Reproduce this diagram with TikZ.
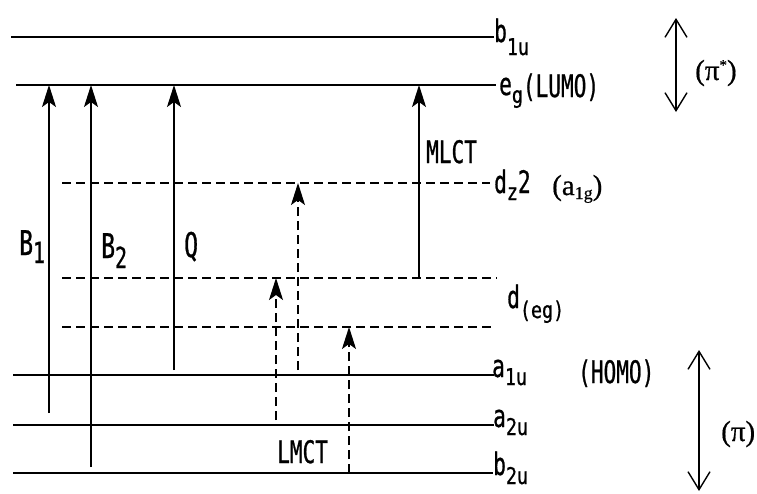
\documentclass[tikz,border=0pt]{standalone}
\usepackage{fontspec}
\usetikzlibrary{arrows.meta}
\newfontfamily\labfont[FakeStretch=0.68,FakeBold=0.8]{DejaVu Sans Mono}
\newfontfamily\subfont[FakeStretch=0.8,FakeBold=0.8]{DejaVu Sans Mono}
\newfontfamily\serfont[FakeBold=0.6]{Liberation Serif}
\newcommand\lsb[2][10pt]{\raisebox{-#1}{\subfont\fontsize{23}{23}\selectfont #2}}
\newcommand\bsb[2][9pt]{\raisebox{-#1}{\labfont\fontsize{29}{29}\selectfont #2}}
\tikzset{
 level/.style={line width=1.8pt},
 dlevel/.style={line width=1.5pt, dash pattern=on 9pt off 5pt},
 trans/.style={line width=1.5pt, -{Stealth[length=22pt,width=14pt,inset=5pt]}},
 dtrans/.style={trans, dash pattern=on 9pt off 5pt},
 spanarrow/.style={line width=1.4pt, {Straight Barb[length=18pt,width=22pt]}-{Straight Barb[length=18pt,width=22pt]}},
 lab/.style={font=\labfont\fontsize{31}{33}\selectfont, inner sep=0pt, anchor=base west},
 biglab/.style={font=\labfont\fontsize{34}{36}\selectfont, inner sep=0pt, anchor=base west},
 ser/.style={font=\serfont\fontsize{29}{31}\selectfont, inner sep=0pt, anchor=base west},
}
\begin{document}
\begin{tikzpicture}[x=1pt,y=-1pt]
\useasboundingbox (0,0) rectangle (757,493);
% level end points
\coordinate (b1uL) at (11,37);  \coordinate (b1uR) at (494,37);
\coordinate (egL)  at (16,85);  \coordinate (egR)  at (496,85);
\coordinate (dzL)  at (62,183); \coordinate (dzR)  at (490,183);
\coordinate (daL)  at (62,278); \coordinate (daR)  at (497,278);
\coordinate (dbL)  at (62,327); \coordinate (dbR)  at (493,327);
\coordinate (a1uL) at (13,375); \coordinate (a1uR) at (494,375);
\coordinate (a2uL) at (13,425); \coordinate (a2uR) at (494,425);
\coordinate (b2uL) at (13,473); \coordinate (b2uR) at (493,473);
% levels
\draw[level] (b1uL) -- (b1uR);
\draw[level] (egL) -- (egR);
\draw[dlevel] (dzL) -- (dzR);
\draw[dlevel] (daL) -- (daR);
\draw[dlevel] (dbL) -- (dbR);
\draw[level] (a1uL) -- (a1uR);
\draw[level] (a2uL) -- (a2uR);
\draw[level] (b2uL) -- (b2uR);
% transition starts
\coordinate (B1s) at (49,413);
\coordinate (B2s) at (91,467);
\coordinate (Qs) at (174,370);
\coordinate (Ms) at (419,278);
\coordinate (Ls1) at (276,420);
\coordinate (Ls2) at (298,370);
\coordinate (Ls3) at (349,473);
\draw[trans] (B1s) -- (B1s |- egL);
\draw[trans] (B2s) -- (B2s |- egL);
\draw[trans] (Qs) -- (Qs |- egL);
\draw[trans] (Ms) -- (Ms |- egL);
\draw[dtrans] (Ls1) -- (Ls1 |- daL);
\draw[dtrans] (Ls2) -- (Ls2 |- dzL);
\draw[dtrans] (Ls3) -- (Ls3 |- dbL);
% right span arrows
\coordinate (psT) at (676,18); \coordinate (psB) at (676,112);
\coordinate (pT) at (699,350); \coordinate (pB) at (699,491);
\draw[spanarrow] (psT) -- (psB);
\draw[spanarrow] (pT) -- (pB);
% labels
\node[lab] (lb1u) at (494,42) {b\lsb[13pt]{1u}};
\node[lab] (leg) at (499,95) {e\lsb[8pt]{g}\raisebox{-2pt}{(LUMO)}};
\node[lab] (ldz) at (494,193) {d\lsb[7pt]{z}2};
\node[ser] (la1g) at (552,195) {(a\raisebox{-4pt}{\fontsize{18}{18}\selectfont 1g})};
\node[lab] (ldeg) at (507,308) {d\lsb[10pt]{(eg)}};
\node[lab] (la1u) at (492,377) {a\lsb[8pt]{1u}};
\node[lab] (lhomo) at (578,383) {(HOMO)};
\node[lab] (la2u) at (493,427) {a\lsb[8pt]{2u}};
\node[lab] (lb2u) at (493,475) {b\lsb[9pt]{2u}};
\node[biglab] (lB1) at (19,255) {B\bsb[8pt]{1}};
\node[biglab] (lB2) at (101,258) {B\bsb[10pt]{2}};
\node[biglab] (lQ) at (184,257) {Q};
\node[lab] (lmlct) at (426,163) {MLCT};
\node[lab] (llmct) at (277,463) {LMCT};
\node[ser] (lpis) at (695,80) {(π\raisebox{10pt}{\fontsize{15}{15}\selectfont *})};
\node[ser] (lpi) at (721,441) {(π)};
\end{tikzpicture}
\end{document}
